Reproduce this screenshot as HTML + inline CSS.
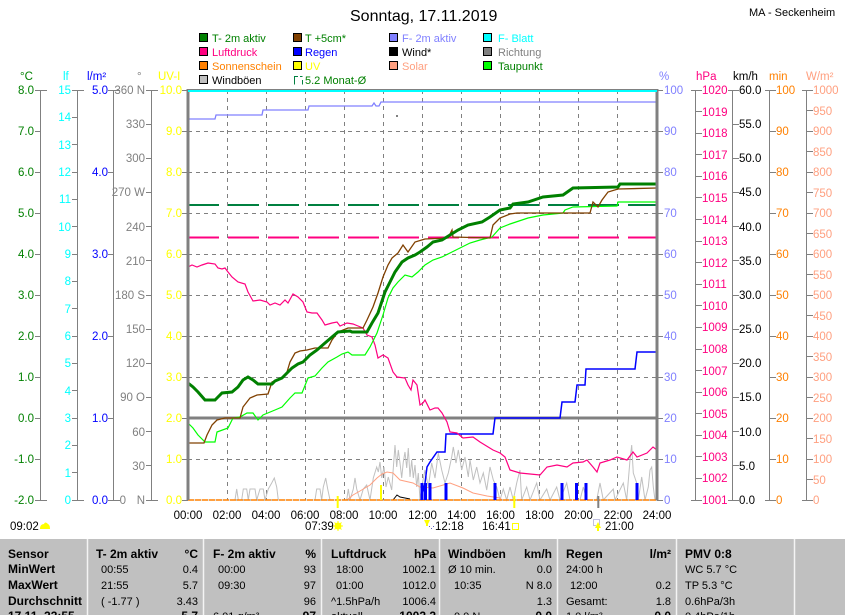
<!DOCTYPE html>
<html><head><meta charset="utf-8"><style>
html,body{margin:0;padding:0;background:#fff;}
svg{display:block;font-family:"Liberation Sans",sans-serif;}
</style></head><body>
<svg width="845" height="615" viewBox="0 0 845 615" xmlns="http://www.w3.org/2000/svg">
<rect x="0" y="0" width="845" height="615" fill="#fff"/>

<!-- Title -->
<text x="350" y="21" font-size="16" fill="#000">Sonntag, 17.11.2019</text>
<text x="749" y="16" font-size="11" fill="#000">MA - Seckenheim</text>

<!-- Legend -->
<g font-size="11" stroke-width="1">
<rect x="199.5" y="33.5" width="8" height="8" fill="#008000" stroke="#000"/><text x="212" y="42" fill="#008000">T- 2m aktiv</text>
<rect x="293.5" y="33.5" width="8" height="8" fill="#804000" stroke="#000"/><text x="305" y="42" fill="#008000">T +5cm*</text>
<rect x="389.5" y="33.5" width="8" height="8" fill="#8080ff" stroke="#000"/><text x="402" y="42" fill="#8080ff">F- 2m aktiv</text>
<rect x="483.5" y="33.5" width="8" height="8" fill="#00ffff" stroke="#000"/><text x="498" y="42" fill="#00ffff">F- Blatt</text>

<rect x="199.5" y="47.5" width="8" height="8" fill="#ff0080" stroke="#000"/><text x="212" y="56" fill="#ff0080">Luftdruck</text>
<rect x="293.5" y="47.5" width="8" height="8" fill="#0000ff" stroke="#000"/><text x="305" y="56" fill="#0000ff">Regen</text>
<rect x="389.5" y="47.5" width="8" height="8" fill="#000" stroke="#000"/><text x="402" y="56" fill="#000">Wind*</text>
<rect x="483.5" y="47.5" width="8" height="8" fill="#808080" stroke="#000"/><text x="498" y="56" fill="#808080">Richtung</text>

<rect x="199.5" y="61.5" width="8" height="8" fill="#ff8000" stroke="#000"/><text x="212" y="70" fill="#ff8000">Sonnenschein</text>
<rect x="293.5" y="61.5" width="8" height="8" fill="#ffff00" stroke="#000"/><text x="305" y="70" fill="#ffff00">UV</text>
<rect x="389.5" y="61.5" width="8" height="8" fill="#ffa080" stroke="#000"/><text x="402" y="70" fill="#ffa080">Solar</text>
<rect x="483.5" y="61.5" width="8" height="8" fill="#00ff00" stroke="#000"/><text x="498" y="70" fill="#008000">Taupunkt</text>

<rect x="199.5" y="75.5" width="8" height="8" fill="#c0c0c0" stroke="#000"/><text x="212" y="84" fill="#000">Windböen</text>
<path d="M294.5,76V84.5 M294.5,76.5H298 M302.5,80V84.5 M300,76.5H302.5" stroke="#008040" fill="none"/><text x="305" y="84" fill="#008000">5.2 Monat-Ø</text>
</g>

<!-- Unit labels -->
<g font-size="11.5">
<text x="20" y="80" fill="#008000">°C</text>
<text x="63" y="80" fill="#00ffff">lf</text>
<text x="87" y="80" fill="#0000ff">l/m²</text>
<text x="137" y="80" fill="#808080">°</text>
<text x="158" y="80" fill="#ffff00">UV-I</text>
<text x="659" y="80" fill="#8080ff">%</text>
<text x="696" y="80" fill="#ff0080">hPa</text>
<text x="733" y="80" fill="#000">km/h</text>
<text x="769" y="80" fill="#ff8000">min</text>
<text x="806" y="80" fill="#ffa080">W/m²</text>
</g>

<!-- Grid -->
<g stroke="#808080" stroke-width="1" stroke-dasharray="4,4" fill="none">
<path d="M227.5,90V500 M266.5,90V500 M305.5,90V500 M344.5,90V500 M383.5,90V500 M422.5,90V500 M461.5,90V500 M500.5,90V500 M539.5,90V500 M578.5,90V500 M617.5,90V500"/>
<path d="M188,131.5H657 M188,172.5H657 M188,213.5H657 M188,254.5H657 M188,295.5H657 M188,336.5H657 M188,377.5H657 M188,459.5H657"/>
</g>
<!-- zero line -->
<path d="M188,418H657" stroke="#808080" stroke-width="3"/>
<!-- bottom baseline -->
<path d="M188,500H657" stroke="#808080" stroke-width="1"/>

<!-- Left axes -->
<g stroke="#808080" stroke-width="1" fill="none">
<path d="M40.5,90V500 M35,90.5H47 M35,131.5H41 M35,172.5H41 M35,213.5H41 M35,254.5H41 M35,295.5H41 M35,336.5H41 M35,377.5H41 M35,418.5H41 M35,459.5H41 M35,500.5H47"/>
<path d="M77.5,90V500 M72,90.5H84 M72,117.5H78 M72,144.5H78 M72,172.5H78 M72,199.5H78 M72,226.5H78 M72,254.5H78 M72,281.5H78 M72,308.5H78 M72,336.5H78 M72,363.5H78 M72,390.5H78 M72,418.5H78 M72,445.5H78 M72,472.5H78 M72,500.5H84"/>
<path d="M113.5,90V500 M108,90.5H120 M108,172.5H114 M108,254.5H114 M108,336.5H114 M108,418.5H114 M108,500.5H120"/>
<path d="M151.5,90V500 M146,90.5H158 M146,124.5H152 M146,158.5H152 M146,192.5H152 M146,226.5H152 M146,260.5H152 M146,295.5H152 M146,329.5H152 M146,363.5H152 M146,397.5H152 M146,431.5H152 M146,465.5H152 M146,500.5H158"/>
<path d="M182,90.5H188 M182,131.5H188 M182,172.5H188 M182,213.5H188 M182,254.5H188 M182,295.5H188 M182,336.5H188 M182,377.5H188 M182,418.5H188 M182,459.5H188 M182,500.5H188"/>
</g>

<!-- Right axes -->
<g stroke="#808080" stroke-width="1" fill="none">
<path d="M657,90.5H663 M657,131.5H663 M657,172.5H663 M657,213.5H663 M657,254.5H663 M657,295.5H663 M657,336.5H663 M657,377.5H663 M657,418.5H663 M657,459.5H663 M657,500.5H663"/>
<path d="M695.5,90V500 M691,90.5H702 M696,111.5H702 M696,133.5H702 M696,154.5H702 M696,176.5H702 M696,197.5H702 M696,219.5H702 M696,241.5H702 M696,262.5H702 M696,284.5H702 M696,305.5H702 M696,327.5H702 M696,349.5H702 M696,370.5H702 M696,392.5H702 M696,413.5H702 M696,435.5H702 M696,456.5H702 M696,478.5H702 M691,500.5H702"/>
<path d="M732.5,90V500 M728,90.5H739 M733,124.5H739 M733,158.5H739 M733,192.5H739 M733,226.5H739 M733,260.5H739 M733,295.5H739 M733,329.5H739 M733,363.5H739 M733,397.5H739 M733,431.5H739 M733,465.5H739 M728,500.5H739"/>
<path d="M769.5,90V500 M765,90.5H776 M770,131.5H776 M770,172.5H776 M770,213.5H776 M770,254.5H776 M770,295.5H776 M770,336.5H776 M770,377.5H776 M770,418.5H776 M770,459.5H776 M765,500.5H776"/>
<path d="M806.5,90V500 M802,90.5H813 M807,110.5H813 M807,131.5H813 M807,151.5H813 M807,172.5H813 M807,192.5H813 M807,213.5H813 M807,233.5H813 M807,254.5H813 M807,274.5H813 M807,295.5H813 M807,315.5H813 M807,336.5H813 M807,356.5H813 M807,377.5H813 M807,397.5H813 M807,418.5H813 M807,438.5H813 M807,459.5H813 M807,479.5H813 M802,500.5H813"/>
</g>

<!-- Left tick labels -->
<g font-size="11.5" text-anchor="end">
<g fill="#008000">
<text x="34" y="94">8.0</text><text x="34" y="135">7.0</text><text x="34" y="176">6.0</text><text x="34" y="217">5.0</text><text x="34" y="258">4.0</text><text x="34" y="299">3.0</text><text x="34" y="340">2.0</text><text x="34" y="381">1.0</text><text x="34" y="422">0.0</text><text x="34" y="463">-1.0</text><text x="34" y="504">-2.0</text>
</g>
<g fill="#00ffff">
<text x="71" y="94">15</text><text x="71" y="121">14</text><text x="71" y="149">13</text><text x="71" y="176">12</text><text x="71" y="203">11</text><text x="71" y="231">10</text><text x="71" y="258">9</text><text x="71" y="285">8</text><text x="71" y="313">7</text><text x="71" y="340">6</text><text x="71" y="367">5</text><text x="71" y="395">4</text><text x="71" y="422">3</text><text x="71" y="449">2</text><text x="71" y="477">1</text><text x="71" y="504">0</text>
</g>
<g fill="#0000ff">
<text x="108" y="94">5.0</text><text x="108" y="176">4.0</text><text x="108" y="258">3.0</text><text x="108" y="340">2.0</text><text x="108" y="422">1.0</text><text x="108" y="504">0.0</text>
</g>
<g fill="#808080">
<text x="145" y="94">360 N</text><text x="145" y="128">330</text><text x="145" y="162">300</text><text x="145" y="196">270 W</text><text x="145" y="231">240</text><text x="145" y="265">210</text><text x="145" y="299">180 S</text><text x="145" y="333">150</text><text x="145" y="367">120</text><text x="145" y="401">90  O</text><text x="145" y="436">60</text><text x="145" y="470">30</text><text x="126" y="504">0</text><text x="145" y="504">N</text>
</g>
<g fill="#ffff00">
<text x="182" y="94">10.0</text><text x="182" y="135">9.0</text><text x="182" y="176">8.0</text><text x="182" y="217">7.0</text><text x="182" y="258">6.0</text><text x="182" y="299">5.0</text><text x="182" y="340">4.0</text><text x="182" y="381">3.0</text><text x="182" y="422">2.0</text><text x="182" y="463">1.0</text><text x="182" y="504">0.0</text>
</g>
</g>

<!-- Right tick labels -->
<g font-size="11.5">
<g fill="#8080ff">
<text x="664" y="94">100</text><text x="664" y="135">90</text><text x="664" y="176">80</text><text x="664" y="217">70</text><text x="664" y="258">60</text><text x="664" y="299">50</text><text x="664" y="340">40</text><text x="664" y="381">30</text><text x="664" y="422">20</text><text x="664" y="463">10</text><text x="664" y="504">0</text>
</g>
<g fill="#ff0080">
<text x="702" y="94">1020</text><text x="702" y="116">1019</text><text x="702" y="137">1018</text><text x="702" y="159">1017</text><text x="702" y="180">1016</text><text x="702" y="202">1015</text><text x="702" y="224">1014</text><text x="702" y="245">1013</text><text x="702" y="267">1012</text><text x="702" y="288">1011</text><text x="702" y="310">1010</text><text x="702" y="331">1009</text><text x="702" y="353">1008</text><text x="702" y="375">1007</text><text x="702" y="396">1006</text><text x="702" y="418">1005</text><text x="702" y="439">1004</text><text x="702" y="461">1003</text><text x="702" y="482">1002</text><text x="702" y="504">1001</text>
</g>
<g fill="#000">
<text x="739" y="94">60.0</text><text x="739" y="128">55.0</text><text x="739" y="162">50.0</text><text x="739" y="196">45.0</text><text x="739" y="231">40.0</text><text x="739" y="265">35.0</text><text x="739" y="299">30.0</text><text x="739" y="333">25.0</text><text x="739" y="367">20.0</text><text x="739" y="401">15.0</text><text x="739" y="436">10.0</text><text x="739" y="470">5.0</text><text x="739" y="504">0.0</text>
</g>
<g fill="#ff8000">
<text x="776" y="94">100</text><text x="776" y="135">90</text><text x="776" y="176">80</text><text x="776" y="217">70</text><text x="776" y="258">60</text><text x="776" y="299">50</text><text x="776" y="340">40</text><text x="776" y="381">30</text><text x="776" y="422">20</text><text x="776" y="463">10</text><text x="776" y="504">0</text>
</g>
<g fill="#ffa080">
<text x="813" y="94">1000</text><text x="813" y="115">950</text><text x="813" y="135">900</text><text x="813" y="156">850</text><text x="813" y="176">800</text><text x="813" y="197">750</text><text x="813" y="217">700</text><text x="813" y="238">650</text><text x="813" y="258">600</text><text x="813" y="279">550</text><text x="813" y="299">500</text><text x="813" y="320">450</text><text x="813" y="340">400</text><text x="813" y="361">350</text><text x="813" y="381">300</text><text x="813" y="402">250</text><text x="813" y="422">200</text><text x="813" y="443">150</text><text x="813" y="463">100</text><text x="813" y="484">50</text><text x="813" y="504">0</text>
</g>
</g>

<!-- Month average dashed lines -->
<path d="M188,205H657" stroke="#008040" stroke-width="2" stroke-dasharray="31,9"/>
<path d="M188,237.5H657" stroke="#ff0080" stroke-width="2" stroke-dasharray="31,9"/>

<!-- Wind gusts (gray) -->
<polyline fill="none" stroke="#c0c0c0" stroke-width="1" points="188,500 235,500 236.7,489 238.3,500 241.7,500 243.3,489 246.7,489 248.3,500 250,489 255,489 256.7,500 260,489 263.3,489 265,500 268.3,489 271.7,483 274.3,478 276.7,487 278.3,500 315,500 316.7,489 320,489 321.7,500 323.3,487 325.7,478 327.7,489 330,500 346.7,500 348.3,489 350,500 353.3,489 355,478 356.7,489 360,500 363.3,489 366.7,485 370,500 373.3,478 376.7,467 378.3,472 380,462 381.7,478 384,467 386,487 388.3,477 391.7,490 395,445 396.7,467 398.3,450 400,463 401.7,478 403.3,462 405,452 406.7,468 408.3,448 410,477 411.7,460 413.3,478 415,465 416.7,487 418.3,473 420,500 421.7,487 425,470 428.3,487 431.7,463 435,478 438.3,453 441.7,470 445,483 448.3,473 451.7,457 453.3,447 456,463 458.3,450 461.7,470 465,457 468.3,477 470,460 473.3,480 476.7,467 480,483 483.3,473 486.7,490 490,467 493.3,480 496.7,487 500,500 503.3,489 506.7,500 510,487 513.3,500 516.7,483 520,470 521.7,500 526.7,487 530,500 536.7,483 540,500 546.7,489 550,500 556.7,487 560,500 566.7,483 570,500 580,500 583.3,487 586.7,500 596.7,500 600,483 603.3,500 613.3,489 615,500 623.3,483 626.7,500 630,460 631.7,445 633.3,473 636.7,483 638.3,500 641.7,477 645,500 648.3,487 650,470 651.7,467 653.3,487 655,500"/>

<!-- Solar -->
<polyline fill="none" stroke="#ffa080" stroke-width="1" points="347,500 353,495 360,491 370,485 377,478 382,474 387,472 393,473 400,480 413,483 420,487 433,488 450,483 463,488 473,493 487,496 500,498 502,500"/>
<!-- Wind* -->
<polyline fill="none" stroke="#000" stroke-width="1" points="393,500 397,495 400,497 405,498 410,499"/>
<!-- Sunshine baseline -->
<path d="M188,500H657" stroke="#ff8000" stroke-width="1.5" stroke-dasharray="6,1"/>

<!-- Rain bars -->
<g stroke="#0000ff" stroke-width="3">
<path d="M422,500V483 M425.5,500V483 M430,500V483 M446,500V483 M495,500V483 M562,500V483 M576.5,500V483 M586,500V483 M637,500V483"/>
</g>
<!-- UV small bar -->
<path d="M381,500V485" stroke="#ffff00" stroke-width="2"/>

<!-- Regen cumulative -->
<polyline fill="none" stroke="#0000ff" stroke-width="1.5" points="421,500 425,483 427,467 430,462 437,452 445,452 446,434 493,434 495,418 560,418 562,402 575,402 577,385 585,385 586,369 635,369 637,352 657,352"/>

<!-- Luftdruck -->
<polyline fill="none" stroke="#ff0080" stroke-width="1.2" points="188,267 192,265 197,267 202,265 208,263 215,264 218,268 222,269 225,268 228,272 232,277 238,282 245,284 248,292 253,301 260,300 267,302 270,305 275,303 280,305 285,300 288,303 293,294 298,297 303,302 307,312 312,313 317,313 322,320 325,325 332,323 337,322 340,326 347,323 353,324 358,326 363,328 367,335 372,337 375,345 378,358 383,355 388,358 393,372 397,377 405,378 408,385 411,390 413,380 417,385 420,405 423,403 425,400 430,410 435,408 438,408 442,413 447,422 450,432 457,433 463,438 473,437 480,442 493,450 500,453 505,457 510,470 520,473 540,475 547,467 557,465 567,467 573,463 583,462 587,460 593,467 597,472 600,463 610,460 617,457 627,460 633,452 637,457 647,453 653,447 657,450"/>

<!-- Taupunkt -->
<polyline fill="none" stroke="#00ff00" stroke-width="1.2" points="188,423 193,428 198,435 205,442 215,442 217,432 228,428 233,418 240,417 247,413 253,413 258,420 263,415 275,410 282,407 290,398 295,393 302,393 308,378 315,376 322,368 328,362 337,357 342,354 348,352 352,355 365,355 370,347 377,333 383,315 388,298 393,288 398,282 405,275 412,277 418,272 425,265 433,260 442,257 452,252 460,248 470,243 480,240 492,237 500,228 510,224 528,218 543,215 563,213 565,210 573,207 617,206 618,202 657,202"/>

<!-- T +5cm -->
<polyline fill="none" stroke="#804000" stroke-width="1.3" points="188,443 204,443 207,435 212,425 217,420 225,418 240,418 243,407 250,398 257,395 268,394 272,382 282,378 287,372 290,362 295,353 300,351 307,350 315,348 328,348 332,340 338,332 348,328 363,328 367,320 373,307 378,293 383,277 388,265 392,258 398,253 403,245 408,252 415,242 425,239 448,238 452,230 453,237 490,238 493,225 500,218 510,214 517,213 590,213 593,202 598,207 602,200 608,192 618,189 657,188"/>

<!-- T-2m aktiv -->
<polyline fill="none" stroke="#008000" stroke-width="3" stroke-linejoin="miter" points="188,383 193,387 198,392 205,400 215,400 217,398 222,393 232,392 238,387 243,380 248,377 253,380 258,384 272,384 275,381 282,378 287,373 292,368 298,364 303,362 310,355 317,350 325,343 332,337 338,332 350,331 352,332 367,332 372,323 378,313 385,292 390,282 395,272 402,262 408,258 415,255 420,252 427,247 433,242 442,240 450,235 458,230 468,225 482,222 490,217 500,210 510,208 513,204 528,202 543,197 563,195 573,188 618,187 620,184 657,184"/>

<!-- F-2m aktiv -->
<polyline fill="none" stroke="#8080ff" stroke-width="1.3" points="188,119 215,119 216,115 262,115 263,110 308,110 309,106 372,106 374,103 376,106 379,106 381,102 657,102"/>
<rect x="396" y="115" width="2" height="2" fill="#808080"/>

<!-- Plot frame -->
<path d="M188,89V500" stroke="#808080" stroke-width="3"/>
<path d="M657,89V500" stroke="#808080" stroke-width="3"/>
<path d="M188,89.5H657" stroke="#808080" stroke-width="1"/>
<path d="M188,91H657" stroke="#00ffff" stroke-width="2"/>

<!-- X axis labels -->
<g font-size="11.5" text-anchor="middle" fill="#000">
<text x="188" y="519">00:00</text><text x="227" y="519">02:00</text><text x="266" y="519">04:00</text><text x="305" y="519">06:00</text><text x="344" y="519">08:00</text><text x="383" y="519">10:00</text><text x="422.5" y="519">12:00</text><text x="461.5" y="519">14:00</text><text x="500.5" y="519">16:00</text><text x="539.5" y="519">18:00</text><text x="578.5" y="519">20:00</text><text x="618" y="519">22:00</text><text x="657" y="519">24:00</text>
</g>

<!-- Sun/moon markers -->
<path d="M337.7,496V508 M514.3,496V508" stroke="#ffff00" stroke-width="2"/>
<path d="M598.3,496V508" stroke="#808080" stroke-width="2"/>
<g font-size="11.5" fill="#000">
<text x="305" y="530">07:39</text>
<text x="435" y="530">12:18</text>
<text x="482" y="530">16:41</text>
<text x="605" y="530">21:00</text>
<text x="10" y="530">09:02</text>
</g>
<!-- sun icon -->
<g stroke="#ffff00" stroke-width="1">
<circle cx="338" cy="526" r="3" fill="#ffff00"/>
<path d="M333,526H343 M338,521V531 M334.5,522.5L341.5,529.5 M341.5,522.5L334.5,529.5"/>
</g>
<!-- moon icon 12:18 -->
<path d="M424,520H430L427,526Z" fill="#ffff00"/>
<path d="M427,520V526" stroke="#ffff00" stroke-width="2"/>
<rect x="429" y="526" width="1" height="1" fill="#6060c0"/><rect x="431" y="528" width="1" height="1" fill="#6060c0"/><rect x="433" y="526" width="1" height="1" fill="#6060c0"/>
<!-- 16:41 box -->
<rect x="512.5" y="523.5" width="6" height="6" fill="none" stroke="#ffff00"/>
<!-- 21:00 icon -->
<path d="M593.5,519.5h6v6h-6z" fill="none" stroke="#8080c0" stroke-dasharray="1,1"/>
<path d="M598,522L595,528H601Z" fill="#ffff00"/>
<path d="M598,525V531" stroke="#ffff00" stroke-width="2"/>
<!-- cloud icon -->
<path d="M40,529 Q40,524 44,524 Q45,521 48,524 Q50,525 50,529Z" fill="#ffff00"/>

<!-- Table -->
<rect x="0" y="539" width="845" height="76" fill="#c0c0c0"/>
<g stroke="#f4f4f4" stroke-width="1.5">
<path d="M87.5,539V615 M203.5,539V615 M321.5,539V615 M439.5,539V615 M557.5,539V615 M676.5,539V615 M794.5,539V615"/>
</g>
<g font-size="12" font-weight="bold" fill="#000">
<text x="8" y="558">Sensor</text>
<text x="8" y="573">MinWert</text>
<text x="8" y="589">MaxWert</text>
<text x="8" y="605">Durchschnitt</text>
<text x="8" y="620">17.11. 23:55</text>
<text x="96" y="558">T- 2m aktiv</text>
<text x="198" y="558" text-anchor="end">°C</text>
<text x="213" y="558">F- 2m aktiv</text>
<text x="316" y="558" text-anchor="end">%</text>
<text x="331" y="558">Luftdruck</text>
<text x="436" y="558" text-anchor="end">hPa</text>
<text x="448" y="558">Windböen</text>
<text x="552" y="558" text-anchor="end">km/h</text>
<text x="566" y="558">Regen</text>
<text x="671" y="558" text-anchor="end">l/m²</text>
<text x="685" y="558">PMV 0:8</text>
<text x="198" y="620" text-anchor="end">5.7</text>
<text x="316" y="620" text-anchor="end">97</text>
<text x="436" y="620" text-anchor="end">1002.2</text>
<text x="552" y="620" text-anchor="end">0.0</text>
<text x="671" y="620" text-anchor="end">0.0</text>
</g>
<g font-size="11" fill="#000">
<text x="101" y="573">00:55</text><text x="198" y="573" text-anchor="end">0.4</text>
<text x="101" y="589">21:55</text><text x="198" y="589" text-anchor="end">5.7</text>
<text x="101" y="605">( -1.77 )</text><text x="198" y="605" text-anchor="end">3.43</text>
<text x="218" y="573">00:00</text><text x="316" y="573" text-anchor="end">93</text>
<text x="218" y="589">09:30</text><text x="316" y="589" text-anchor="end">97</text>
<text x="316" y="605" text-anchor="end">96</text>
<text x="213" y="620">6.01 g/m³</text>
<text x="336" y="573">18:00</text><text x="436" y="573" text-anchor="end">1002.1</text>
<text x="336" y="589">01:00</text><text x="436" y="589" text-anchor="end">1012.0</text>
<text x="331" y="605">^1.5hPa/h</text><text x="436" y="605" text-anchor="end">1006.4</text>
<text x="331" y="620">aktuell</text>
<text x="448" y="573">Ø 10 min.</text><text x="552" y="573" text-anchor="end">0.0</text>
<text x="454" y="589">10:35</text><text x="552" y="589" text-anchor="end">N 8.0</text>
<text x="552" y="605" text-anchor="end">1.3</text>
<text x="454" y="620">0.0 N</text>
<text x="566" y="573">24:00 h</text>
<text x="570" y="589">12:00</text><text x="671" y="589" text-anchor="end">0.2</text>
<text x="566" y="605">Gesamt:</text><text x="671" y="605" text-anchor="end">1.8</text>
<text x="566" y="620">1.0 l/m²</text>
<text x="685" y="573">WC 5.7 °C</text>
<text x="685" y="589">TP 5.3 °C</text>
<text x="685" y="605">0.6hPa/3h</text>
<text x="685" y="620">0.4hPa/1h</text>
</g>
</svg>
</body></html>
